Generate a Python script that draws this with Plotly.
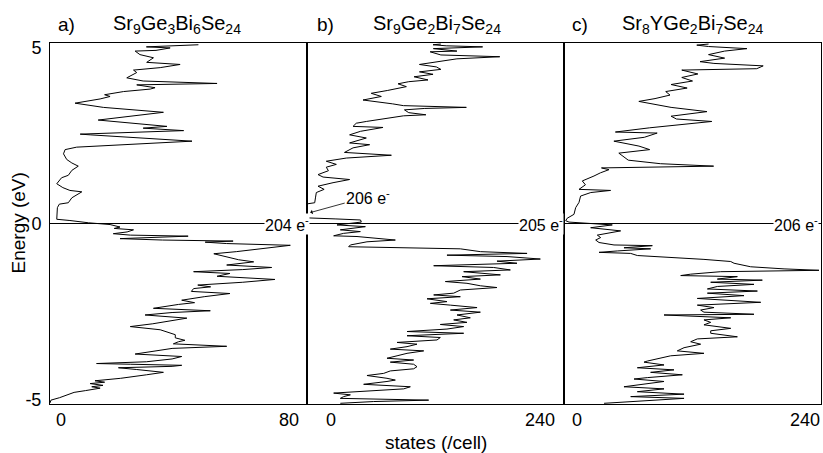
import plotly.graph_objects as go

# ---------------- data ----------------
E_a = [-5.10, -5.02, -4.95, -4.85, -4.80, -4.75, -4.68, -4.64, -4.60, -4.55, -4.51, -4.47, -4.40,
       -4.30, -4.23, -4.15, -4.10, -4.06, -4.03, -4.00, -3.98, -3.93, -3.85, -3.78, -3.71, -3.62,
       -3.55, -3.49, -3.42, -3.36, -3.32, -3.25, -3.16, -3.02, -2.93, -2.85, -2.75, -2.69, -2.60,
       -2.53, -2.48, -2.41, -2.30, -2.25, -2.18, -2.08, -1.99, -1.93, -1.85, -1.80, -1.75, -1.67,
       -1.59, -1.50, -1.42, -1.37, -1.31, -1.25, -1.18, -1.09, -1.03, -0.95, -0.86, -0.80, -0.72,
       -0.62, -0.57, -0.53, -0.50, -0.47, -0.43, -0.39, -0.36, -0.33, -0.29, -0.24, -0.18, -0.14,
       -0.10, -0.03, 0.02, 0.085, 0.12, 0.45, 0.55, 0.59, 0.73, 0.90, 0.94, 1.02, 1.13, 1.30, 1.37,
       1.51, 1.63, 1.72, 1.82, 1.98, 2.10, 2.17, 2.22, 2.34, 2.52, 2.54, 2.64, 2.71, 2.76, 2.94,
       3.16, 3.30, 3.42, 3.54, 3.61, 3.66, 3.75, 3.82, 3.86, 3.94, 3.98, 4.05, 4.14, 4.29, 4.36,
       4.43, 4.52, 4.58, 4.71, 4.80, 4.90, 4.92, 4.99, 5.02, 5.08]
D_a = [0.0, 0.3, 3.0, 6.2, 7.5, 11.0, 15.6, 13.0, 16.5, 12.5, 17.0, 14.0, 22.0,
       30.0, 35.3, 27.0, 21.3, 38.0, 41.0, 25.0, 14.5, 30.0, 38.0, 41.0, 26.5, 33.0,
       38.0, 55.0, 38.4, 40.0, 42.0, 39.0, 39.0, 34.3, 25.0, 32.0, 38.0, 42.6, 29.6,
       38.0, 49.9, 32.2, 40.0, 45.0, 41.0, 48.0, 56.0, 44.0, 44.7, 50.0, 46.0, 60.0,
       70.0, 52.0, 56.0, 44.7, 60.0, 69.0, 55.0, 63.4, 58.7, 55.0, 51.0, 58.0, 65.0,
       74.8, 55.0, 48.3, 57.0, 35.0, 21.8, 35.0, 43.0, 25.0, 19.7, 24.0, 26.0, 20.0,
       21.8, 18.7, 12.0, 6.2, 2.1, 2.3, 2.9, 5.7, 6.8, 9.9, 6.2, 4.0, 2.1, 3.6, 5.7,
       6.8, 8.8, 6.8, 5.2, 4.2, 4.7, 8.3, 18.7, 44.2, 12.5, 9.4, 41.6, 29.0, 36.4, 15.0,
       35.3, 16.6, 7.8, 15.6, 18.7, 17.0, 22.9, 31.2, 32.7, 27.0, 52.0, 29.0, 23.9, 27.0, 26.0,
       34.3, 40.5, 30.1, 32.2, 28.0, 26.5, 33.0, 37.4, 30.0, 46.2]

E_b = [-5.11, -5.06, -5.02, -4.97, -4.92, -4.87, -4.82, -4.76, -4.70, -4.64, -4.57, -4.49, -4.45,
       -4.40, -4.32, -4.26, -4.19, -4.13, -4.07, -4.00, -3.94, -3.88, -3.83, -3.76, -3.69, -3.62,
       -3.57, -3.50, -3.43, -3.38, -3.31, -3.24, -3.19, -3.12, -3.07, -3.00, -2.93, -2.87, -2.81,
       -2.74, -2.68, -2.60, -2.52, -2.46, -2.39, -2.32, -2.27, -2.22, -2.14, -2.08, -2.03, -1.98,
       -1.89, -1.82, -1.77, -1.70, -1.65, -1.58, -1.51, -1.46, -1.42, -1.37, -1.32, -1.25, -1.20,
       -1.13, -1.07, -1.01, -0.94, -0.90, -0.85, -0.80, -0.72, -0.69, -0.66, -0.61, -0.52, -0.47,
       -0.37, -0.35, -0.28, -0.23, -0.18, -0.09, -0.04,
       0.04, 0.10, 0.13, 0.15, 0.16, 0.56, 0.59, 0.75, 0.88, 0.97, 1.06, 1.16,
       1.25, 1.32, 1.39, 1.50, 1.60, 1.68, 1.77, 1.86, 1.94, 2.02, 2.15, 2.24, 2.29, 2.43, 2.52,
       2.62, 2.73, 2.76, 2.85, 2.90, 2.99, 3.06, 3.09, 3.15, 3.23, 3.27, 3.30, 3.35, 3.40, 3.47,
       3.51, 3.61, 3.70, 3.78, 3.89, 3.97, 4.03, 4.08, 4.17, 4.24, 4.31, 4.38, 4.45, 4.52, 4.60,
       4.68, 4.74, 4.79, 4.88, 4.90, 4.97, 5.02, 5.05, 5.08, 5.10]
D_b = [31.1, 62.3, 113.6, 31.1, 34.2, 40.5, 24.9, 62.3, 90.3, 96.5, 52.9, 74.7, 82.5,
       74.7, 56.0, 71.6, 77.8, 99.6, 102.7, 99.6, 77.8, 99.6, 74.7, 84.1, 93.4, 109.0,
       77.8, 93.4, 102.7, 84.1, 121.4, 124.5, 93.4, 146.3, 93.4, 130.7, 146.3, 124.5, 149.4,
       137.0, 152.5, 140.1, 161.9, 133.9, 158.8, 133.9, 115.2, 130.7, 112.1, 143.2, 118.3, 137.0,
       143.2, 177.4, 161.9, 149.4, 129.2, 161.9, 144.8, 180.6, 168.1, 146.3, 189.9, 174.3, 118.3,
       196.1, 177.4, 217.9, 186.8, 130.7, 205.5, 161.9, 143.2, 74.7, 38.9, 40.5, 56.0, 82.5,
       46.7, 24.9, 34.2, 49.8, 31.1, 54.5, 28.0,
       50.7, 50.0, 27.0, 5.0, 0.0, 0.5, 7.2, 8.0, 8.7, 16.0, 10.3, 24.3,
       39.8, 15.0, 10.3, 20.0, 18.0, 27.4, 18.0, 36.7, 78.8, 35.0, 43.0, 58.5, 39.8, 55.4, 39.8,
       50.0, 71.0, 43.0, 46.0, 55.4, 75.6, 90.0, 111.0, 95.0, 91.0, 110.0, 148.8, 90.0, 80.0, 63.2,
       52.3, 69.4, 60.0, 75.0, 92.8, 85.0, 95.0, 113.0, 100.0, 117.7, 105.0, 125.0, 120.8, 105.0, 125.0,
       140.0, 180.0, 125.0, 115.0, 140.0, 118.0, 164.0, 130.0, 117.7, 125.0]

E_c = [-5.11, -5.04, -4.97, -4.92, -4.85, -4.78, -4.70, -4.64, -4.57, -4.49, -4.42, -4.38, -4.30,
       -4.23, -4.16, -4.10, -4.02, -3.94, -3.91, -3.83, -3.76, -3.69, -3.62, -3.53, -3.43, -3.36,
       -3.28, -3.22, -3.12, -3.05, -2.98, -2.88, -2.81, -2.74, -2.68, -2.60, -2.58, -2.52, -2.46,
       -2.39, -2.32, -2.24, -2.20, -2.13, -2.05, -1.98, -1.92, -1.86, -1.79, -1.73, -1.67, -1.61,
       -1.58, -1.51, -1.48, -1.44, -1.37, -1.33, -1.29, -1.23, -1.13, -1.08, -1.02, -0.97, -0.91,
       -0.85, -0.82, -0.78, -0.72, -0.69, -0.63, -0.61, -0.54, -0.47, -0.40, -0.33, -0.21, -0.12,
       -0.04,
       0.04, 0.08, 0.15, 0.26, 0.45, 0.60, 0.78, 0.88, 0.94, 0.97, 1.10, 1.21, 1.35, 1.44, 1.53, 1.58, 1.63,
       1.70, 1.80, 2.00, 2.10, 2.20, 2.34, 2.45, 2.57, 2.60, 2.72, 2.90, 2.97, 3.05, 3.18, 3.30,
       3.47, 3.55, 3.65, 3.75, 3.85, 3.95, 4.05, 4.15, 4.25, 4.36, 4.40, 4.48, 4.55, 4.60, 4.70,
       4.80, 4.90, 4.97, 5.03, 5.07, 5.10]
D_c = [37.4, 77.8, 112.1, 62.3, 112.1, 68.5, 93.4, 56.0, 74.7, 93.4, 65.4, 77.8, 110.5,
       80.9, 102.7, 68.5, 93.4, 74.7, 77.8, 90.3, 99.6, 130.7, 105.8, 112.1, 127.6, 118.3,
       124.5, 161.9, 137.0, 137.0, 155.7, 130.7, 137.0, 130.7, 155.7, 93.4, 177.4, 130.7, 127.6,
       140.1, 124.5, 183.7, 165.0, 124.5, 168.1, 133.9, 180.6, 133.9, 143.2, 177.4, 137.0, 185.2,
       143.2, 161.9, 109.0, 118.3, 146.3, 238.1, 205.5, 174.3, 158.8, 155.7, 130.7, 102.7, 68.5,
       62.3, 32.7, 49.8, 80.9, 56.0, 82.5, 46.7, 32.7, 29.6, 34.2, 31.1, 52.9, 24.9,
       45.1,
       4.7, 1.6, 3.0, 9.3, 10.9, 14.0, 15.5, 25.0, 43.5, 14.0, 20.0, 17.1, 28.0, 34.0, 42.0, 35.0, 139.7,
       90.0, 60.0, 51.2, 80.0, 70.0, 46.6, 75.0, 87.0, 48.0, 80.0, 138.0, 105.0, 100.0, 133.5, 100.0,
       69.9, 85.0, 99.0, 95.0, 115.0, 100.0, 120.0, 110.0, 125.0, 110.0, 180.0, 186.0, 140.0, 127.0, 150.0,
       135.0, 150.0, 170.8, 135.0, 124.0, 135.0]

panel_letters = ["a)", "b)", "c)"]
panel_titles = ["Sr<sub>9</sub>Ge<sub>3</sub>Bi<sub>6</sub>Se<sub>24</sub>",
                "Sr<sub>9</sub>Ge<sub>2</sub>Bi<sub>7</sub>Se<sub>24</sub>",
                "Sr<sub>8</sub>YGe<sub>2</sub>Bi<sub>7</sub>Se<sub>24</sub>"]
x_max = [80, 240, 240]
fermi_labels = ["204 e<sup>-</sup>", "205 e<sup>-</sup>", "206 e<sup>-</sup>"]
y_ticks = [-5, 0, 5]
y_range = [-5.13, 5.13]

FONT = "Liberation Sans, Arial, sans-serif"

fig = go.Figure()
series = [(E_a, D_a), (E_b, D_b), (E_c, D_c)]
for i, (E, D) in enumerate(series):
    sfx = "" if i == 0 else str(i + 1)
    fig.add_trace(go.Scatter(x=D, y=E, mode="lines", xaxis="x" + sfx, yaxis="y" + sfx,
                             line=dict(color="black", width=1), showlegend=False))

doms = [[0, 1 / 3], [1 / 3, 2 / 3], [2 / 3, 1]]
layout = dict(width=823, height=453, margin=dict(l=50, r=2, t=43, b=49),
              paper_bgcolor="white", plot_bgcolor="white",
              font=dict(family=FONT, size=18, color="black"))
for i in range(3):
    sfx = "" if i == 0 else str(i + 1)
    layout["xaxis" + sfx] = dict(domain=doms[i], range=[0, x_max[i]], anchor="y" + sfx,
                                 showline=True, mirror=True, linecolor="black", linewidth=1,
                                 showgrid=False, zeroline=False, showticklabels=False, ticks="")
    layout["yaxis" + sfx] = dict(domain=[0, 1], range=y_range, anchor="x" + sfx,
                                 showline=True, mirror=True, linecolor="black", linewidth=1,
                                 showgrid=False, zeroline=False,
                                 showticklabels=(i == 0), tickvals=y_ticks,
                                 ticktext=[str(v) for v in y_ticks],
                                 ticks="outside" if i == 0 else "", ticklen=4,
                                 tickcolor="rgba(0,0,0,0)",
                                 tickfont=dict(size=18))
fig.update_layout(**layout)

# Fermi level lines
for i in range(3):
    sfx = "" if i == 0 else str(i + 1)
    fig.add_shape(type="line", xref="x" + sfx + " domain", yref="y" + sfx,
                  x0=0, x1=1, y0=0, y1=0, line=dict(color="black", width=1))

ann = []
letter_x = [66, 325, 580]
title_x = [177, 437, 692]
zero_shift = [4, 17, 6]
max_shift = [-6, -7, 1]
fermi_shift = [3, 0, -2]
for i in range(3):
    sfx = "" if i == 0 else str(i + 1)
    ann.append(dict(text=panel_letters[i], xref="paper", yref="paper",
                    x=(letter_x[i] - 50) / 771, y=1, yshift=19, showarrow=False,
                    xanchor="center", yanchor="middle", font=dict(size=19)))
    ann.append(dict(text=panel_titles[i], xref="paper", yref="paper",
                    x=(title_x[i] - 50) / 771, y=1, yshift=19, showarrow=False,
                    xanchor="center", yanchor="middle", font=dict(size=20)))
    ann.append(dict(text=fermi_labels[i], xref="x" + sfx + " domain", yref="y" + sfx,
                    x=1, y=0, xshift=fermi_shift[i], showarrow=False, xanchor="right",
                    yanchor="middle", bgcolor="white", borderpad=0, font=dict(size=16)))
    ann.append(dict(text="0", xref="x" + sfx, yref="paper", x=0, y=0, yshift=-16,
                    xshift=zero_shift[i], showarrow=False, xanchor="left", yanchor="middle",
                    font=dict(size=18)))
    ann.append(dict(text=str(x_max[i]), xref="x" + sfx, yref="paper", x=x_max[i], y=0,
                    yshift=-16, xshift=max_shift[i], showarrow=False, xanchor="right",
                    yanchor="middle", font=dict(size=18)))

ann.append(dict(text="206 e<sup>-</sup>", xref="x2", yref="y2", x=3, y=0.31,
                ax=58, ay=-16, showarrow=True, arrowhead=1, arrowsize=1, arrowwidth=0.8,
                arrowcolor="black", font=dict(size=16)))
ann.append(dict(text="Energy (eV)", xref="paper", yref="y", x=0, y=0, xshift=-32,
                textangle=-90, showarrow=False, xanchor="center", yanchor="middle",
                font=dict(size=19)))
ann.append(dict(text="states (/cell)", xref="paper", yref="paper", x=0.5, y=0, yshift=-38,
                showarrow=False, xanchor="center", yanchor="middle", font=dict(size=19)))
fig.update_layout(annotations=ann)

fig.write_html("out.html")
